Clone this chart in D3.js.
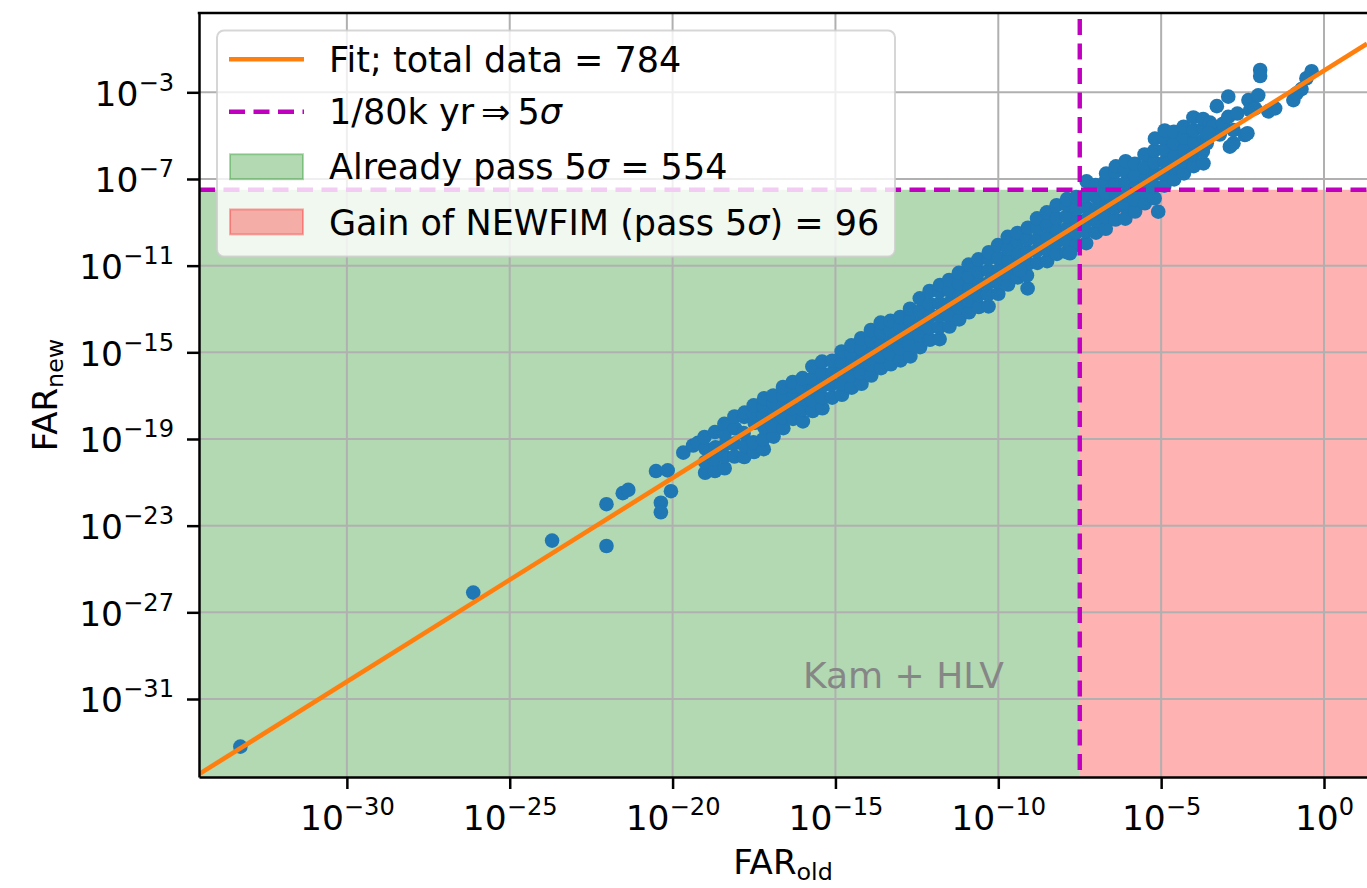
<!DOCTYPE html>
<html><head><meta charset="utf-8">
<script src="https://cdn.jsdelivr.net/npm/d3@7/dist/d3.min.js"></script>
<style>
body{margin:0;background:#fff;}
svg text{font-family:"DejaVu Sans",sans-serif;}
</style>
</head><body>
<svg id="chart" width="1367" height="888"></svg>
<script>
// ---------------- data (log10 exponents) ----------------
const xTickExp = [-30, -25, -20, -15, -10, -5, 0];
const yTickExp = [-31, -27, -23, -19, -15, -11, -7, -3];
const xDomainExp = [-34.54, 1.32];
const yDomainExp = [-34.6, 0.66];
const thresholdFAR = 3.17e-8;          // 1/80k yr => 5 sigma
const fitSlope = 0.94;                  // log10(FAR_new) = slope*log10(FAR_old) + intercept
const fitIntercept = -2.0;
const totalData = 784, alreadyPass = 554, gainNewfim = 96;
const legendLabels = [
  "Fit; total data = " + totalData,
  "1/80k yr\u2009\u21D2\u20095σ",
  "Already pass 5σ = " + alreadyPass,
  "Gain of NEWFIM (pass 5σ) = " + gainNewfim
];
const annotationText = "Kam + HLV";

// isolated points of the low-FAR tail  [log10 FAR_old, log10 FAR_new]
const pointsTail = [
  [-33.27,-33.20],[-26.12,-26.09],[-23.70,-23.69],[-22.03,-23.94],[-22.03,-22.01],
  [-21.53,-21.50],[-21.36,-21.35],[-20.51,-20.48],[-20.15,-20.45],[-20.36,-21.94],
  [-20.36,-22.38],[-20.05,-21.41],[-19.67,-19.63],[-19.37,-19.30],[-19.22,-19.18]
];
// dense band along the fit
const pointsBand = [
  [-19.0,-20.56],[-19.0,-20.06],[-18.98,-19.46],[-19.02,-18.91],
  [-18.7,-20.48],[-18.72,-19.93],[-18.68,-19.38],[-18.7,-18.68],
  [-18.4,-20.35],[-18.42,-19.80],[-18.38,-19.25],[-18.4,-18.75],[-18.41,-18.30],
  [-18.1,-19.81],[-18.12,-19.21],[-18.08,-18.51],[-18.1,-17.96],
  [-17.8,-19.83],[-17.78,-19.33],[-17.82,-18.73],[-17.8,-17.98],[-17.79,-17.78],
  [-17.5,-19.60],[-17.52,-19.15],[-17.48,-18.25],[-17.5,-17.85],[-17.51,-17.45],
  [-17.2,-19.47],[-17.22,-19.02],[-17.18,-18.47],[-17.2,-17.92],[-17.21,-17.47],[-17.19,-17.12],
  [-16.9,-18.89],[-16.92,-18.39],[-16.88,-17.79],[-16.9,-17.34],[-16.91,-16.99],
  [-16.6,-18.50],[-16.62,-18.00],[-16.58,-17.45],[-16.6,-17.00],[-16.61,-16.60],
  [-16.3,-18.07],[-16.32,-17.57],[-16.28,-17.02],[-16.3,-16.57],[-16.31,-16.37],
  [-16.0,-18.19],[-16.02,-17.64],[-15.98,-17.14],[-16.0,-16.64],[-16.01,-16.19],
  [-15.7,-17.71],[-15.72,-17.21],[-15.68,-16.71],[-15.7,-16.21],[-15.71,-15.66],
  [-15.4,-17.58],[-15.42,-17.08],[-15.38,-16.53],[-15.4,-15.98],[-15.41,-15.43],
  [-15.1,-17.09],[-15.12,-16.49],[-15.08,-15.94],[-15.1,-15.39],
  [-14.8,-16.96],[-14.82,-16.46],[-14.78,-15.91],[-14.8,-15.46],[-14.81,-14.96],
  [-14.5,-16.63],[-14.52,-16.08],[-14.48,-15.53],[-14.5,-15.03],[-14.51,-14.68],
  [-14.2,-16.45],[-14.22,-15.95],[-14.18,-15.40],[-14.2,-14.85],[-14.21,-14.35],
  [-13.9,-16.07],[-13.92,-15.57],[-13.88,-15.02],[-13.9,-14.47],[-13.91,-13.97],
  [-13.6,-15.73],[-13.62,-15.18],[-13.58,-14.63],[-13.6,-14.08],[-13.61,-13.63],
  [-13.3,-15.55],[-13.32,-15.05],[-13.28,-14.50],[-13.3,-14.00],[-13.31,-13.55],
  [-13.0,-15.37],[-13.02,-14.82],[-12.98,-14.32],[-13.0,-13.82],[-13.01,-13.37],
  [-12.7,-15.19],[-12.72,-14.64],[-12.68,-14.09],[-12.7,-13.54],[-12.71,-12.99],
  [-12.4,-14.76],[-12.42,-14.21],[-12.38,-13.66],[-12.4,-13.11],[-12.41,-12.51],
  [-12.1,-14.42],[-12.12,-13.87],[-12.08,-13.32],[-12.1,-12.77],[-12.11,-12.17],
  [-11.8,-14.39],[-11.82,-13.84],[-11.78,-13.29],[-11.8,-12.74],[-11.81,-12.19],[-11.79,-11.89],
  [-11.5,-13.81],[-11.52,-13.26],[-11.48,-12.71],[-11.5,-12.16],[-11.51,-11.66],
  [-11.2,-13.48],[-11.22,-12.93],[-11.18,-12.38],[-11.2,-11.83],[-11.21,-11.33],
  [-10.9,-13.15],[-10.92,-12.60],[-10.88,-12.05],[-10.9,-11.50],[-10.91,-10.95],
  [-10.6,-12.91],[-10.62,-12.36],[-10.58,-11.81],[-10.6,-11.26],[-10.61,-10.71],
  [-10.3,-12.88],[-10.32,-12.33],[-10.28,-11.78],[-10.3,-11.23],[-10.31,-10.68],[-10.29,-10.38],
  [-10.0,-12.30],[-10.02,-11.75],[-9.98,-11.20],[-10.0,-10.65],[-10.01,-10.05],
  [-9.7,-11.87],[-9.72,-11.32],[-9.68,-10.77],[-9.7,-10.22],[-9.71,-9.67],
  [-9.4,-11.54],[-9.42,-10.99],[-9.38,-10.44],[-9.4,-9.89],[-9.41,-9.49],
  [-9.1,-12.05],[-9.12,-11.45],[-9.08,-10.90],[-9.1,-10.35],[-9.11,-9.80],[-9.09,-9.25],
  [-8.8,-10.87],[-8.82,-10.32],[-8.78,-9.77],[-8.8,-9.27],[-8.81,-8.82],
  [-8.5,-10.79],[-8.52,-10.24],[-8.48,-9.69],[-8.5,-9.14],[-8.51,-8.54],
  [-8.2,-10.46],[-8.22,-9.91],[-8.18,-9.36],[-8.2,-8.81],[-8.21,-8.21],
  [-7.9,-10.38],[-7.92,-9.83],[-7.88,-9.28],[-7.9,-8.73],[-7.91,-8.18],[-7.89,-7.93],
  [-7.6,-10.04],[-7.62,-9.49],[-7.58,-8.94],[-7.6,-8.39],[-7.61,-7.84],
  [-7.3,-9.96],[-7.32,-9.41],[-7.28,-8.86],[-7.3,-8.31],[-7.31,-7.76],[-7.29,-7.11],
  [-7.0,-9.48],[-7.02,-8.93],[-6.98,-8.38],[-7.0,-7.83],[-7.01,-7.28],
  [-6.7,-9.30],[-6.72,-8.75],[-6.68,-8.20],[-6.7,-7.65],[-6.71,-7.10],[-6.69,-6.75],
  [-6.4,-8.87],[-6.42,-8.32],[-6.38,-7.77],[-6.4,-7.22],[-6.41,-6.67],[-6.39,-6.42],
  [-6.1,-8.83],[-6.12,-8.28],[-6.08,-7.73],[-6.1,-7.18],[-6.11,-6.63],[-6.09,-6.18],
  [-5.8,-8.50],[-5.82,-7.95],[-5.78,-7.40],[-5.8,-6.85],[-5.81,-6.30],
  [-5.5,-8.12],[-5.52,-7.57],[-5.48,-7.02],[-5.5,-6.47],[-5.51,-5.87],
  [-5.2,-7.89],[-5.22,-7.34],[-5.18,-6.79],[-5.2,-6.24],[-5.21,-5.69],[-5.19,-5.14],
  [-4.9,-7.31],[-4.92,-6.76],[-4.88,-6.21],[-4.9,-5.66],[-4.91,-5.11],[-4.89,-4.76],
  [-4.6,-7.02],[-4.62,-6.47],[-4.58,-5.92],[-4.6,-5.37],[-4.61,-4.82],
  [-4.3,-6.74],[-4.32,-6.19],[-4.28,-5.64],[-4.3,-5.09],[-4.31,-4.59],
  [-4.0,-6.41],[-4.02,-5.86],[-3.98,-5.31],[-4.0,-4.76],[-4.01,-4.16],
  [-3.7,-6.28],[-3.72,-5.73],[-3.68,-5.18],[-3.7,-4.63],[-3.71,-4.23]
];
// sparse points at high FAR and low outliers near the threshold
const pointsUpper = [
  [-5.09,-8.51],[-7.80,-10.43],[-9.34,-11.20],
  [-3.60,-5.35],[-3.50,-4.40],[-3.40,-4.59],[-3.29,-3.64],[-3.20,-4.95],[-3.55,-4.90],[-3.10,-4.45],
  [-2.94,-3.20],[-2.94,-4.13],[-2.89,-5.51],[-2.78,-4.74],[-2.78,-5.35],[-2.66,-3.98],
  [-2.43,-4.97],[-2.35,-4.89],[-2.32,-3.36],[-2.27,-3.82],[-2.12,-3.74],[-2.02,-3.14],
  [-1.96,-1.97],[-1.96,-2.25],[-1.71,-3.88],[-1.50,-3.74],
  [-0.94,-3.36],[-0.84,-3.05],[-0.69,-2.85],[-0.54,-2.35],[-0.38,-2.03]
];

// ---------------- layout ----------------
const P = {left:199, right:1367, top:13, bottom:777};
const pw = v => Math.pow(10, v);
const x = d3.scaleLog().domain(xDomainExp.map(pw)).range([P.left, P.right]);
const y = d3.scaleLog().domain(yDomainExp.map(pw)).range([P.bottom, P.top]);
const tickFont = 34.5, labelFont = 34, legendFont = 35;

const svg = d3.select("#chart");
svg.append("defs").append("clipPath").attr("id","plotclip")
  .append("rect").attr("x",P.left).attr("y",P.top).attr("width",P.right-P.left).attr("height",P.bottom-P.top);
const plot = svg.append("g").attr("clip-path","url(#plotclip)");

// shaded regions
plot.append("rect").attr("x", x(pw(xDomainExp[0]))).attr("y", y(thresholdFAR))
  .attr("width", x(thresholdFAR)-x(pw(xDomainExp[0]))).attr("height", P.bottom-y(thresholdFAR))
  .attr("fill","rgb(0,128,0)").attr("fill-opacity",0.3);
plot.append("rect").attr("x", x(thresholdFAR)).attr("y", y(thresholdFAR))
  .attr("width", x(pw(xDomainExp[1]))-x(thresholdFAR)+5).attr("height", P.bottom-y(thresholdFAR))
  .attr("fill","rgb(255,0,0)").attr("fill-opacity",0.3);

// grid
plot.selectAll(".gx").data(xTickExp).enter().append("line")
  .attr("x1", d=>x(pw(d))).attr("x2", d=>x(pw(d))).attr("y1",P.top).attr("y2",P.bottom)
  .attr("stroke","#b0b0b0").attr("stroke-width",2);
plot.selectAll(".gy").data(yTickExp).enter().append("line")
  .attr("y1", d=>y(pw(d))).attr("y2", d=>y(pw(d))).attr("x1",P.left).attr("x2",P.right)
  .attr("stroke","#b0b0b0").attr("stroke-width",2);

// scatter
const allPts = pointsTail.concat(pointsBand, pointsUpper);
plot.selectAll("circle.pt").data(allPts).enter().append("circle")
  .attr("class","pt").attr("cx", d=>x(pw(d[0]))).attr("cy", d=>y(pw(d[1])))
  .attr("r",7.3).attr("fill","#1f77b4");

// threshold dashed lines
const dash = "16,8.5";
plot.append("line").attr("x1",P.left).attr("x2",P.right+5).attr("y1",y(thresholdFAR)).attr("y2",y(thresholdFAR))
  .attr("stroke","#bf00bf").attr("stroke-width",4.4).attr("stroke-dasharray",dash);
plot.append("line").attr("x1",x(thresholdFAR)).attr("x2",x(thresholdFAR)).attr("y1",P.top+6).attr("y2",P.bottom)
  .attr("stroke","#bf00bf").attr("stroke-width",4.4).attr("stroke-dasharray",dash);

// fit line
const fitX = xDomainExp;
const fitLine = d3.line().x(d=>x(pw(d))).y(d=>y(pw(fitSlope*d+fitIntercept)));
plot.append("path").attr("d", fitLine(fitX)).attr("fill","none")
  .attr("stroke","#ff7f0e").attr("stroke-width",4.6);

// annotation
svg.append("text").attr("x",803).attr("y",688).attr("font-size",36).attr("fill","#868686")
  .text(annotationText);

// axes
const xAxis = d3.axisBottom(x).tickValues(xTickExp.map(pw)).tickSize(12).tickSizeOuter(0).tickFormat(()=>"");
const gx = svg.append("g").attr("transform",`translate(0,${P.bottom})`).call(xAxis);
gx.select(".domain").attr("stroke-width",2.5).attr("stroke","#000");
gx.selectAll(".tick line").attr("stroke-width",2.5).attr("stroke","#000");
gx.selectAll(".tick text").remove();
gx.selectAll(".tick").append("text").attr("y",53).attr("text-anchor","middle")
  .attr("font-size",tickFont).attr("fill","#000")
  .each(function(d){ const e = Math.round(Math.log10(d)); const t=d3.select(this);
    t.append("tspan").text("10");
    t.append("tspan").attr("font-size","0.7em").attr("dy",-15).text(e===0?"0":"\u2212"+Math.abs(e)); });

const yAxis = d3.axisLeft(y).tickValues(yTickExp.map(pw)).tickSize(12).tickSizeOuter(0).tickFormat(()=>"");
const gy = svg.append("g").attr("transform",`translate(${P.left},0)`).call(yAxis);
gy.select(".domain").attr("stroke-width",2.5).attr("stroke","#000");
gy.selectAll(".tick line").attr("stroke-width",2.5).attr("stroke","#000");
gy.selectAll(".tick text").remove();
gy.selectAll(".tick").append("text").attr("x",-25).attr("y",13).attr("text-anchor","end")
  .attr("font-size",tickFont).attr("fill","#000")
  .each(function(d){ const e = Math.round(Math.log10(d)); const t=d3.select(this);
    t.append("tspan").text("10");
    t.append("tspan").attr("font-size","0.7em").attr("dy",-15).text("\u2212"+Math.abs(e)); });

// top spine
svg.append("line").attr("x1",P.left-1.25).attr("x2",P.right).attr("y1",P.top).attr("y2",P.top)
  .attr("stroke","#000").attr("stroke-width",2.5);

// axis labels
const xl = svg.append("text").attr("x",(P.left+P.right)/2).attr("y",874).attr("text-anchor","middle")
  .attr("font-size",labelFont).attr("fill","#000");
xl.append("tspan").text("FAR");
xl.append("tspan").attr("font-size","0.7em").attr("dy",6).text("old");
const yl = svg.append("text").attr("transform",`translate(57,${(P.top+P.bottom)/2}) rotate(-90)`)
  .attr("text-anchor","middle").attr("font-size",labelFont).attr("fill","#000");
yl.append("tspan").text("FAR");
yl.append("tspan").attr("font-size","0.7em").attr("dy",6).text("new");

// legend
const lg = svg.append("g");
lg.append("rect").attr("x",217).attr("y",30.5).attr("width",678).attr("height",226).attr("rx",7)
  .attr("fill","#fff").attr("fill-opacity",0.8).attr("stroke","#cccccc").attr("stroke-opacity",0.8).attr("stroke-width",2);
const rowY = [59.3, 111.7, 166.7, 221.9];
lg.append("line").attr("x1",229).attr("x2",304).attr("y1",rowY[0]).attr("y2",rowY[0])
  .attr("stroke","#ff7f0e").attr("stroke-width",4.6);
lg.append("line").attr("x1",229).attr("x2",304).attr("y1",rowY[1]).attr("y2",rowY[1])
  .attr("stroke","#bf00bf").attr("stroke-width",4.4).attr("stroke-dasharray",dash);
lg.append("rect").attr("x",230).attr("y",rowY[2]-12.5).attr("width",73).attr("height",25)
  .attr("fill","rgb(0,128,0)").attr("fill-opacity",0.3).attr("stroke","rgb(0,128,0)").attr("stroke-opacity",0.3).attr("stroke-width",2);
lg.append("rect").attr("x",230).attr("y",rowY[3]-12.5).attr("width",73).attr("height",25)
  .attr("fill","rgb(255,0,0)").attr("fill-opacity",0.3).attr("stroke","rgb(255,0,0)").attr("stroke-opacity",0.3).attr("stroke-width",2);
legendLabels.forEach((lab,i)=>{
  const t = lg.append("text").attr("x",329).attr("y",rowY[i]+12.6).attr("font-size",legendFont).attr("fill","#000");
  const parts = lab.split("σ");
  parts.forEach((p,j)=>{
    if(p.length) t.append("tspan").text(p);
    if(j<parts.length-1) t.append("tspan").attr("font-style","italic").text("σ");
  });
});
</script>
</body></html>
